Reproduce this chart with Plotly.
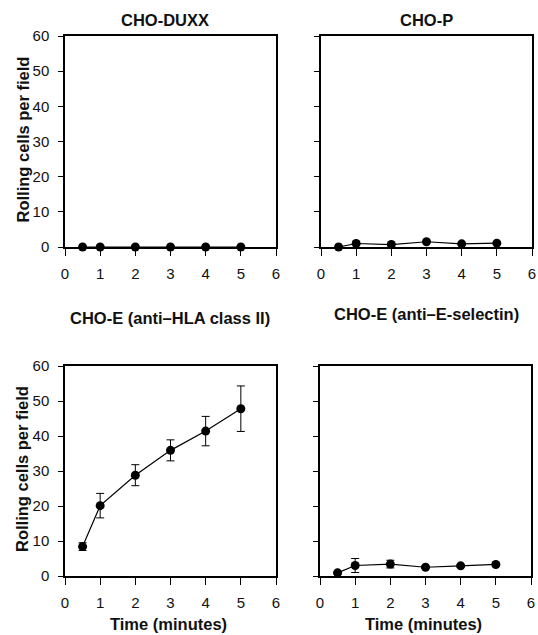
import plotly.graph_objects as go

time_min = [0.5, 1, 2, 3, 4, 5]
duxx_y = [0, 0, 0, 0, 0, 0]
chop_y = [0.0, 1.0, 0.7, 1.5, 0.9, 1.1]
hla_y = [8.4, 20.1, 28.8, 35.9, 41.4, 47.8]
hla_err = [1.1, 3.5, 3.0, 3.0, 4.2, 6.5]
esel_y = [0.9, 3.0, 3.4, 2.5, 2.9, 3.3]
esel_err = [0.3, 2.0, 1.1, 0.3, 0.3, 0.3]
titles = ["CHO-DUXX", "CHO-P", "CHO-E (anti\u2013HLA class II)", "CHO-E (anti\u2013E-selectin)"]
y_title = "Rolling cells per field"
x_title = "Time (minutes)"
x_ticks = [0, 1, 2, 3, 4, 5, 6]
y_ticks = [0, 10, 20, 30, 40, 50, 60]

W, H = 538, 635
panels = [
    dict(x0=65, x1=276, y0=36, y1=247, y=duxx_y, err=None, ylab=True, xlab=False),
    dict(x0=321, x1=532, y0=36, y1=247, y=chop_y, err=None, ylab=False, xlab=False),
    dict(x0=65, x1=276, y0=366, y1=576, y=hla_y, err=hla_err, ylab=True, xlab=True),
    dict(x0=320, x1=531, y0=366, y1=576, y=esel_y, err=esel_err, ylab=False, xlab=True),
]
title_pos = [(165, 20), (427, 20), (170, 318), (426, 314)]


def px(x):
    return x / W


def py(y):
    return 1 - y / H


fig = go.Figure()
font_fam = "Liberation Sans, Arial, sans-serif"
annotations = []
for i, p in enumerate(panels):
    n = "" if i == 0 else str(i + 1)
    tr = dict(
        x=time_min, y=p["y"], mode="lines+markers",
        line=dict(color="black", width=1.2),
        marker=dict(color="black", size=9),
        xaxis="x" + n, yaxis="y" + n, showlegend=False,
        cliponaxis=False, hoverinfo="skip",
    )
    if p["err"] is not None:
        tr["error_y"] = dict(type="data", array=p["err"], visible=True,
                             color="black", thickness=1, width=4)
    fig.add_trace(go.Scatter(**tr))
    ax = dict(
        domain=[px(p["x0"]), px(p["x1"])], range=[0, 6],
        tickvals=x_ticks, ticks="outside", ticklen=7, tickwidth=1, tickcolor="black",
        showline=True, linecolor="black", linewidth=1.5, mirror=True,
        showgrid=False, zeroline=False, automargin=False,
        ticklabelstandoff=5,
        tickfont=dict(family=font_fam, size=15, color="#111"),
        anchor="y" + n, fixedrange=True,
    )
    ay = dict(
        domain=[py(p["y1"]), py(p["y0"])], range=[0, 60],
        tickvals=y_ticks, ticks="outside", ticklen=5, tickwidth=1, tickcolor="black",
        showline=True, linecolor="black", linewidth=1.5, mirror=True,
        showgrid=False, zeroline=False, showticklabels=p["ylab"], automargin=False,
        ticklabelstandoff=6,
        tickfont=dict(family=font_fam, size=15, color="#111"),
        anchor="x" + n, fixedrange=True,
    )
    fig.update_layout(**{"xaxis" + n: ax, "yaxis" + n: ay})
    tx, ty = title_pos[i]
    annotations.append(dict(
        text="<b>" + titles[i] + "</b>", x=px(tx), y=py(ty),
        xref="paper", yref="paper", showarrow=False,
        xanchor="center", yanchor="middle",
        font=dict(family=font_fam, size=16.5, color="#111"),
    ))
    if p["ylab"]:
        annotations.append(dict(
            text="<b>" + y_title + "</b>", x=px(22),
            y=py((p["y0"] + p["y1"]) / 2 - 2),
            xref="paper", yref="paper", showarrow=False, textangle=-90,
            xanchor="center", yanchor="middle",
            font=dict(family=font_fam, size=16.5, color="#111"),
        ))
    if p["xlab"]:
        annotations.append(dict(
            text="<b>" + x_title + "</b>", x=px((p["x0"] + p["x1"]) / 2 - 2),
            y=py(624),
            xref="paper", yref="paper", showarrow=False,
            xanchor="center", yanchor="middle",
            font=dict(family=font_fam, size=16.5, color="#111"),
        ))

fig.update_layout(
    width=W, height=H, margin=dict(l=0, r=0, t=0, b=0),
    paper_bgcolor="white", plot_bgcolor="white",
    annotations=annotations,
)
fig.write_html(
    "out.html",
    config={"displayModeBar": False},
    post_script="document.body.style.margin='0';document.body.style.overflow='hidden';",
)
